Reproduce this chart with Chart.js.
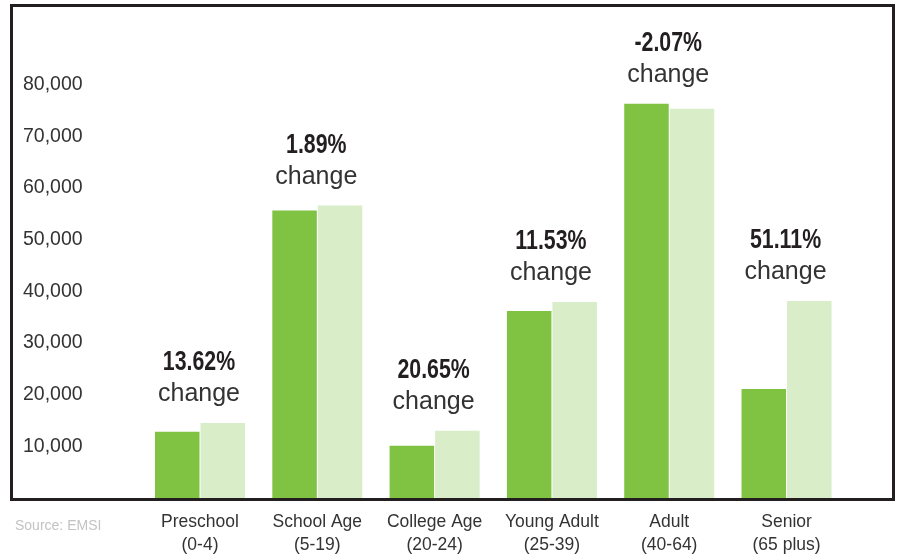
<!DOCTYPE html>
<html>
<head>
<meta charset="utf-8">
<script src="https://cdn.jsdelivr.net/npm/chart.js@4.4.1/dist/chart.umd.min.js"></script>
<style>
  html, body { margin: 0; padding: 0; background: #fff; }
  canvas { display: block; }
</style>
</head>
<body>
<canvas id="ageChart" width="898" height="554"></canvas>
<script>
// population by age group
const categories = [
  ['Preschool', '(0-4)'],
  ['School Age', '(5-19)'],
  ['College Age', '(20-24)'],
  ['Young Adult', '(25-39)'],
  ['Adult', '(40-64)'],
  ['Senior', '(65 plus)']
];
const startValues = [12830, 55610, 10120, 36200, 76270, 21100];
const endValues = [14520, 56580, 13030, 37940, 75300, 38130];
const changeLabels = ['13.62%', '1.89%', '20.65%', '11.53%', '-2.07%', '51.11%'];
const tickValues = [10000, 20000, 30000, 40000, 50000, 60000, 70000, 80000];

const FONT = '"Liberation Sans", Arial, sans-serif';
Chart.defaults.font.family = FONT;

// frame, change labels above each pair, source note
const notes = {
  id: 'notes',
  afterDatasetsDraw(chart) {
    const { ctx, chartArea, scales: { x } } = chart;
    const dark = chart.getDatasetMeta(0).data;
    const light = chart.getDatasetMeta(1).data;
    ctx.save();
    ctx.textAlign = 'center';
    ctx.textBaseline = 'alphabetic';
    changeLabels.forEach((txt, i) => {
      const cx = x.getPixelForValue(i) - 1;
      const top = Math.min(dark[i].y, light[i].y);
      const base = top - 22;
      ctx.fillStyle = '#333';
      ctx.font = '25px ' + FONT;
      ctx.fillText('change', cx, base);
      ctx.save();
      ctx.translate(cx, base - 31);
      ctx.scale(0.79, 1);
      ctx.fillStyle = '#231f20';
      ctx.font = 'bold 27px ' + FONT;
      ctx.fillText(txt, 0, 0);
      ctx.restore();
    });
    ctx.strokeStyle = '#231f20';
    ctx.lineWidth = 3;
    ctx.strokeRect(11.5, 5.5, 882, chartArea.bottom + 1.5 - 5.5);
    ctx.textAlign = 'left';
    ctx.fillStyle = '#c3c3c3';
    ctx.font = '14px ' + FONT;
    ctx.fillText('Source: EMSI', 15, chartArea.bottom + 32);
    ctx.restore();
  }
};

new Chart(document.getElementById('ageChart'), {
  type: 'bar',
  data: {
    labels: categories,
    datasets: [
      { label: 'Before', data: startValues, backgroundColor: '#80c342' },
      { label: 'After', data: endValues, backgroundColor: '#d9edc9' }
    ]
  },
  options: {
    responsive: false,
    animation: false,
    devicePixelRatio: 1,
    layout: { padding: { left: 23, right: 52.8, top: 7, bottom: 0 } },
    plugins: { legend: { display: false }, tooltip: { enabled: false } },
    datasets: { bar: { categoryPercentage: 0.776, barPercentage: 0.978 } },
    scales: {
      x: {
        grid: { display: false, drawTicks: false },
        border: { display: false },
        ticks: {
          color: '#333',
          font: { size: 17.5, lineHeight: 1.34 },
          padding: 12,
          maxRotation: 0,
          autoSkip: false
        },
        afterFit: s => { s.height = 56; s.paddingLeft = 0; s.paddingRight = 0; }
      },
      y: {
        min: 0,
        max: 95000,
        grid: { display: false, drawTicks: false },
        border: { display: false },
        afterBuildTicks: s => { s.ticks = tickValues.map(v => ({ value: v })); },
        ticks: {
          crossAlign: 'far',
          color: '#333',
          font: { size: 19.5 },
          callback: v => v.toLocaleString('en-US')
        },
        afterFit: s => { s.width = 118.35; s.paddingTop = 0; s.paddingBottom = 0; }
      }
    }
  },
  plugins: [notes]
});
</script>
</body>
</html>
